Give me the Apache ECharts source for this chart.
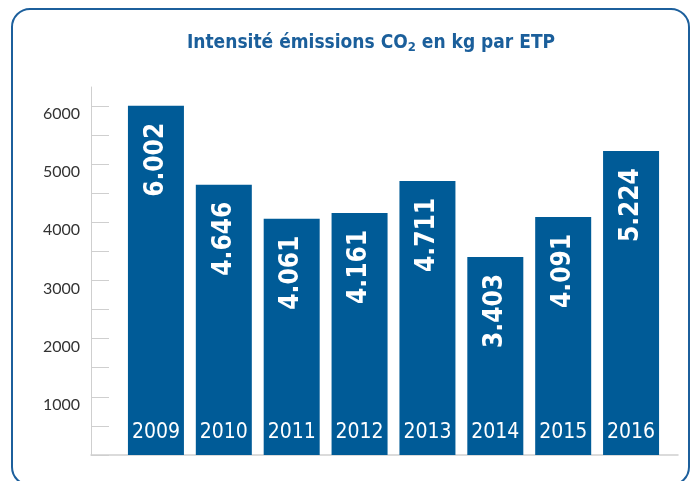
<!DOCTYPE html>
<html>
<head>
<meta charset="utf-8">
<script src="https://cdn.jsdelivr.net/npm/echarts@6/dist/echarts.min.js"></script>
<style>
html,body{margin:0;padding:0;background:#fff;}
#chart{width:690px;height:481px;}
</style>
</head>
<body>
<div id="chart"></div>
<script>
var years = ['2009','2010','2011','2012','2013','2014','2015','2016'];
var intensity = [6002, 4646, 4061, 4161, 4711, 3403, 4091, 5224];
var tickValues = [0,500,1000,1500,2000,2500,3000,3500,4000,4500,5000,5500,6000];
var labelValues = [1000,2000,3000,4000,5000,6000];

var chart = echarts.init(document.getElementById('chart'));
var yMax = 6326;
var condensed = '"DejaVu Sans Condensed","DejaVu Sans",sans-serif';

chart.setOption({
  animation: false,
  title: {
    text: 'Intensité émissions CO{sub|2} en kg par ETP',
    left: 366,
    top: 27,
    textAlign: 'center',
    textStyle: {
      fontFamily: condensed,
      fontWeight: 'bold',
      fontSize: 19,
      color: '#1b5f9b',
      rich: {
        sub: {
          fontFamily: condensed,
          fontWeight: 'bold',
          fontSize: 13,
          color: '#1b5f9b',
          padding: [9, 0, 0, 0]
        }
      }
    }
  },
  graphic: [{
    type: 'rect',
    shape: {x: 12, y: 9, width: 677, height: 476, r: 18},
    style: {fill: 'none', stroke: '#1c5f9c', lineWidth: 2},
    silent: true,
    z: -1
  }],
  grid: [
    {left: 91, right: 12, top: 87, bottom: 26},
    {left: 122, right: 25, top: 87, bottom: 26}
  ],
  xAxis: [
    {
      gridIndex: 0, type: 'value', min: 0, max: 1,
      axisLine: {show: true, lineStyle: {color: '#cfcfcf', width: 1.5}},
      axisTick: {show: false}, axisLabel: {show: false}, splitLine: {show: false}
    },
    {
      gridIndex: 1, type: 'category', data: years,
      axisLine: {show: false}, axisTick: {show: false},
      axisLabel: {
        inside: true, margin: 12, interval: 0, color: '#ffffff',
        fontFamily: condensed, fontSize: 21
      },
      z: 10
    }
  ],
  yAxis: [
    {
      gridIndex: 0, type: 'value', min: 0, max: yMax,
      axisLine: {show: true, lineStyle: {color: '#cfcfcf', width: 1}},
      axisTick: {show: true, inside: true, length: 18, customValues: tickValues,
                 lineStyle: {color: '#cfcfcf', width: 1}},
      axisLabel: {show: true, customValues: labelValues, margin: 11,
                  color: '#333333', fontFamily: 'Lato, "Open Sans", sans-serif', fontSize: 16,
                  verticalAlign: 'top',
                  formatter: function (v) { return String(v); }},
      splitLine: {show: false}
    },
    {
      gridIndex: 1, type: 'value', min: 0, max: yMax, show: false
    }
  ],
  series: [{
    type: 'bar',
    xAxisIndex: 1,
    yAxisIndex: 1,
    data: intensity,
    barWidth: 56,
    itemStyle: {color: '#005b97'},
    label: {
      show: true,
      position: 'insideTop',
      distance: 17,
      rotate: 90,
      align: 'right',
      verticalAlign: 'middle',
      color: '#ffffff',
      fontFamily: condensed,
      fontWeight: 'bold',
      fontSize: 26,
      formatter: function (p) {
        var s = String(p.value);
        return s.slice(0, s.length - 3) + '.' + s.slice(-3);
      }
    }
  }]
});
</script>
</body>
</html>
